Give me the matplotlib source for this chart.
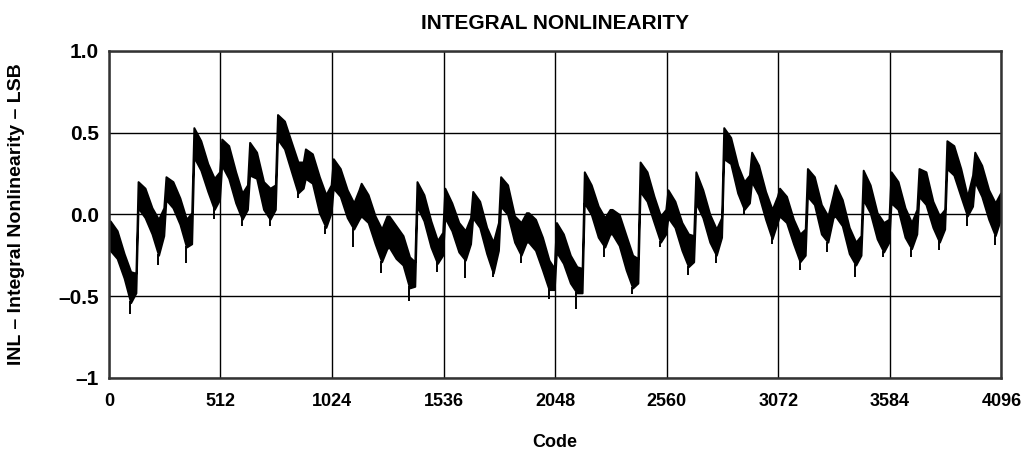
import numpy as np
import matplotlib
matplotlib.use("Agg")
import matplotlib.pyplot as plt

# INL band: 32 segments of 128 codes,
# upper/lower edge of the trace at a few points per segment
seg_offsets = [6, 38, 70, 100, 124]
upper = [
    [-0.04, -0.10, -0.24, -0.35, -0.36],
    [0.20, 0.16, 0.04, -0.03, 0.04],
    [0.23, 0.20, 0.10, -0.03, 0.01],
    [0.53, 0.45, 0.31, 0.22, 0.26],
    [0.46, 0.42, 0.26, 0.13, 0.18],
    [0.44, 0.38, 0.20, 0.16, 0.18],
    [0.61, 0.57, 0.44, 0.32, 0.32],
    [0.40, 0.37, 0.23, 0.12, 0.18],
    [0.34, 0.28, 0.15, 0.07, 0.15],
    [0.19, 0.12, -0.01, -0.09, -0.01],
    [-0.01, -0.07, -0.13, -0.26, -0.29],
    [0.20, 0.12, -0.04, -0.16, -0.11],
    [0.16, 0.07, -0.05, -0.10, -0.02],
    [0.14, 0.08, -0.08, -0.17, -0.05],
    [0.23, 0.18, -0.01, -0.05, 0.01],
    [0.01, -0.03, -0.14, -0.28, -0.33],
    [-0.05, -0.12, -0.25, -0.32, -0.33],
    [0.26, 0.18, 0.05, -0.02, 0.03],
    [0.03, 0.00, -0.13, -0.25, -0.27],
    [0.32, 0.26, 0.11, -0.01, 0.03],
    [0.15, 0.08, -0.05, -0.12, -0.13],
    [0.26, 0.15, 0.00, -0.09, -0.02],
    [0.53, 0.47, 0.30, 0.20, 0.24],
    [0.38, 0.30, 0.14, 0.03, 0.11],
    [0.16, 0.11, -0.03, -0.12, -0.09],
    [0.28, 0.23, 0.06, -0.01, 0.12],
    [0.18, 0.09, -0.08, -0.17, -0.13],
    [0.27, 0.18, 0.01, -0.05, -0.03],
    [0.26, 0.20, 0.04, -0.05, 0.03],
    [0.28, 0.26, 0.08, -0.01, 0.03],
    [0.45, 0.42, 0.28, 0.11, 0.24],
    [0.38, 0.30, 0.15, 0.07, 0.13],
]
lower = [
    [-0.22, -0.27, -0.39, -0.54, -0.48],
    [0.04, -0.02, -0.12, -0.25, -0.13],
    [0.09, 0.04, -0.06, -0.20, -0.18],
    [0.35, 0.27, 0.14, 0.03, 0.09],
    [0.30, 0.22, 0.07, -0.03, 0.03],
    [0.24, 0.22, 0.03, -0.03, 0.03],
    [0.46, 0.40, 0.26, 0.13, 0.16],
    [0.22, 0.19, 0.01, -0.08, 0.01],
    [0.16, 0.11, -0.02, -0.09, -0.03],
    [-0.01, -0.05, -0.18, -0.29, -0.21],
    [-0.20, -0.27, -0.31, -0.45, -0.44],
    [0.05, -0.04, -0.20, -0.30, -0.25],
    [-0.02, -0.10, -0.23, -0.28, -0.18],
    [-0.02, -0.08, -0.24, -0.36, -0.22],
    [0.05, 0.00, -0.17, -0.25, -0.17],
    [-0.17, -0.22, -0.34, -0.46, -0.46],
    [-0.23, -0.30, -0.42, -0.48, -0.48],
    [0.07, 0.00, -0.14, -0.20, -0.12],
    [-0.12, -0.19, -0.34, -0.45, -0.42],
    [0.14, 0.08, -0.05, -0.17, -0.12],
    [-0.02, -0.08, -0.22, -0.32, -0.29],
    [0.07, -0.02, -0.17, -0.25, -0.14],
    [0.34, 0.31, 0.13, 0.03, 0.07],
    [0.20, 0.12, -0.03, -0.15, -0.05],
    [-0.01, -0.05, -0.18, -0.29, -0.25],
    [0.11, 0.06, -0.12, -0.17, -0.02],
    [-0.01, -0.07, -0.24, -0.31, -0.25],
    [0.09, 0.01, -0.15, -0.23, -0.17],
    [0.07, 0.03, -0.14, -0.21, -0.12],
    [0.11, 0.06, -0.08, -0.17, -0.09],
    [0.28, 0.24, 0.11, -0.01, 0.05],
    [0.20, 0.11, -0.03, -0.13, -0.03],
]

# deepest downward spike in each segment (near its low end)
spike_offset = 98
spike_lows = [-0.61, -0.31, -0.30, -0.03, -0.07, -0.07, 0.10, -0.12,
              -0.20, -0.36, -0.53, -0.35, -0.39, -0.38, -0.30, -0.52,
              -0.58, -0.26, -0.49, -0.20, -0.37, -0.30, 0.00, -0.18,
              -0.34, -0.23, -0.38, -0.26, -0.26, -0.22, -0.07, -0.19]

x_ticks = [0, 512, 1024, 1536, 2048, 2560, 3072, 3584, 4096]
y_ticks = [-1, -0.5, 0, 0.5, 1.0]
y_labels = ["\u20131", "\u20130.5", "0.0", "0.5", "1.0"]

codes = np.concatenate([128 * k + np.array(seg_offsets) for k in range(len(upper))])
up = np.concatenate(upper)
lo = np.concatenate(lower)
spike_codes = 128 * np.arange(len(spike_lows)) + spike_offset

fig = plt.figure(figsize=(10.27, 4.57), dpi=100)
ax = fig.add_axes([0.106, 0.173, 0.869, 0.716])

ax.fill_between(codes, lo, up, color="black", linewidth=1.4, edgecolor="black")
ax.vlines(spike_codes, spike_lows, np.interp(spike_codes, codes, lo),
          color="black", linewidth=1.4)

ax.set_xlim(0, 4096)
ax.set_ylim(-1, 1)
ax.set_xticks(x_ticks)
ax.set_yticks(y_ticks)
ax.set_yticklabels(y_labels)
ax.grid(True, color="black", linewidth=1.0)
ax.set_axisbelow(True)
ax.tick_params(axis="y", length=0, pad=7)
ax.tick_params(axis="x", length=0, pad=11)
for lab in ax.get_xticklabels():
    lab.set_fontfamily("Liberation Sans")
    lab.set_fontweight("bold")
    lab.set_fontsize(13)
for lab in ax.get_yticklabels():
    lab.set_fontfamily("Liberation Sans")
    lab.set_fontweight("bold")
    lab.set_fontsize(15)
for s in ax.spines.values():
    s.set_linewidth(1.8)
    s.set_color("#333333")

ax.set_title("INTEGRAL NONLINEARITY", fontsize=15, fontweight="bold",
             family="Liberation Sans", pad=16)
ax.set_xlabel("Code", fontsize=13, fontweight="bold",
              family="Liberation Sans", labelpad=17)
ax.set_ylabel("INL \u2013 Integral Nonlinearity \u2013 LSB", fontsize=14,
              fontweight="bold", family="Liberation Sans", labelpad=24)

fig.savefig("out.png", dpi=100)
